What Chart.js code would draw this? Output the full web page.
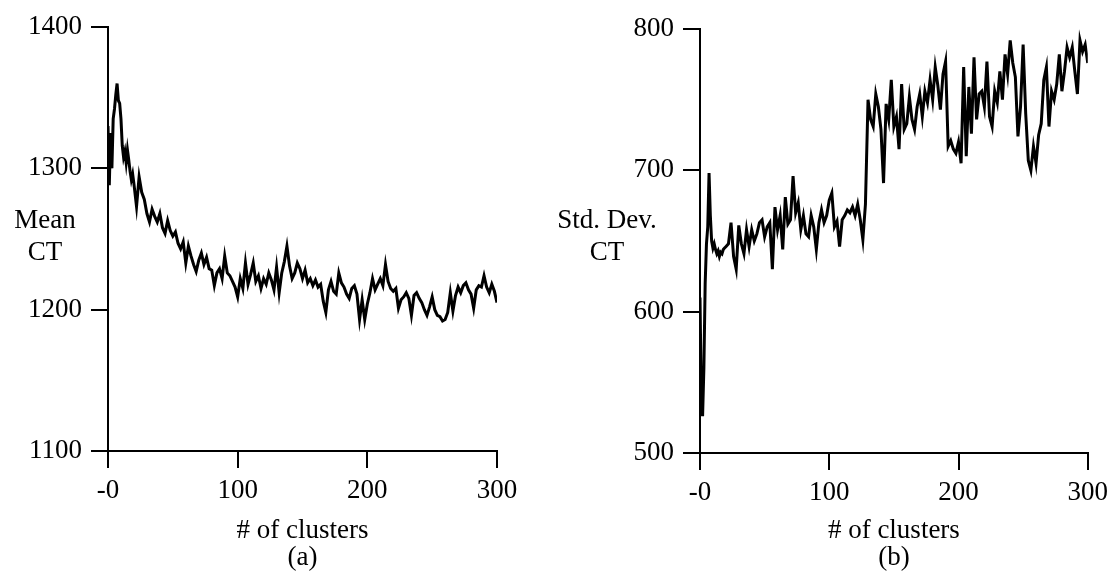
<!DOCTYPE html>
<html>
<head>
<meta charset="utf-8">
<title>Mean and standard deviation of CT versus number of clusters</title>
<script src="https://cdn.jsdelivr.net/npm/chart.js@4.4.1/dist/chart.umd.min.js"></script>
<style>
  html, body { margin: 0; padding: 0; background: #fff; }
  #wrap { position: relative; width: 1115px; height: 575px; overflow: hidden; }
  canvas { position: absolute; top: 0; }
  #meanChart { left: 0; }
  #stdChart { left: 557px; }
</style>
</head>
<body>
<div id="wrap">
  <canvas id="meanChart" width="557" height="575"></canvas>
  <canvas id="stdChart" width="558" height="575"></canvas>
</div>
<script>
// Number of clusters (x values shared by both panels)
const clusterCounts = [
  0, 1, 2, 3, 4, 5, 6, 7, 8, 9, 10, 11, 12, 13, 14, 15, 16, 17, 18, 19, 20,
  22, 24, 26, 28, 30, 32, 34, 36, 38, 40,
  42, 44, 46, 48, 50, 52, 54, 56, 58, 60,
  62, 64, 66, 68, 70, 72, 74, 76, 78, 80,
  82, 84, 86, 88, 90, 92, 94, 96, 98, 100,
  102, 104, 106, 108, 110, 112, 114, 116, 118, 120,
  122, 124, 126, 128, 130, 132, 134, 136, 138, 140,
  142, 144, 146, 148, 150, 152, 154, 156, 158, 160,
  162, 164, 166, 168, 170, 172, 174, 176, 178, 180,
  182, 184, 186, 188, 190, 192, 194, 196, 198, 200,
  202, 204, 206, 208, 210, 212, 214, 216, 218, 220,
  222, 224, 226, 228, 230, 232, 234, 236, 238, 240,
  242, 244, 246, 248, 250, 252, 254, 256, 258, 260,
  262, 264, 266, 268, 270, 272, 274, 276, 278, 280,
  282, 284, 286, 288, 290, 292, 294, 296, 298, 300
];

// (a) Mean CT
const meanCT = [
  1330, 1288, 1325, 1300, 1335, 1342, 1352, 1360, 1348, 1346, 1335, 1316, 1308, 1312, 1304, 1313, 1306, 1298, 1292, 1296, 1289,
  1273, 1294, 1283, 1278, 1268, 1262, 1271, 1266, 1262, 1268,
  1258, 1254, 1263, 1256, 1252, 1255, 1247, 1243, 1248, 1233,
  1245, 1238, 1232, 1227, 1235, 1240, 1232, 1237, 1229, 1228,
  1217, 1226, 1229, 1222, 1238, 1226, 1224, 1220, 1216, 1209,
  1222, 1215, 1233, 1218, 1225, 1233, 1220, 1224, 1215, 1222,
  1218, 1226, 1221, 1214, 1230, 1212, 1226, 1234, 1245, 1231,
  1222, 1226, 1233, 1229, 1222, 1228, 1219, 1222, 1217, 1221,
  1216, 1218, 1206, 1198, 1214, 1220, 1213, 1211, 1226, 1219,
  1216, 1211, 1208, 1215, 1217, 1211, 1193, 1207, 1193, 1204,
  1212, 1222, 1214, 1218, 1222, 1217, 1232, 1220, 1215, 1213,
  1215, 1201, 1207, 1209, 1212, 1208, 1196, 1210, 1212, 1208,
  1205, 1200, 1196, 1202, 1209, 1200, 1196, 1195, 1192, 1193,
  1198, 1212, 1199, 1210, 1216, 1212, 1217, 1219, 1214, 1211,
  1201, 1214, 1217, 1216, 1224, 1216, 1212, 1218, 1213, 1205
];

// (b) Std. Dev. CT
const stdDevCT = [
  610, 540, 526, 560, 620, 648, 660, 698, 668, 650, 645, 648, 644, 641, 643, 639, 642, 641, 644, 645, 646,
  648, 663, 639, 630, 661, 648, 641, 658, 646, 658,
  650, 655, 663, 665, 653, 660, 663, 630, 674, 658,
  668, 644, 681, 662, 665, 696, 670, 677, 658, 668,
  655, 653, 668, 660, 644, 663, 672, 663, 668, 679,
  684, 660, 664, 646, 665, 668, 672, 670, 674, 668,
  676, 665, 651, 676, 750, 736, 731, 754, 745, 729,
  691, 747, 736, 764, 731, 738, 715, 761, 729, 733,
  752, 736, 729, 745, 754, 738, 756, 748, 764, 750,
  773, 760, 743, 768, 777, 717, 721, 715, 712, 720,
  705, 773, 710, 759, 726, 780, 736, 754, 756, 745,
  777, 738, 731, 756, 748, 770, 750, 782, 768, 792,
  776, 766, 724, 745, 789, 740, 707, 700, 717, 705,
  725, 733, 764, 773, 731, 756, 750, 761, 782, 756,
  770, 787, 780, 787, 770, 754, 792, 784, 789, 776
];

// Axis ticks
const clusterTicks = [0, 100, 200, 300];
const clusterTickLabels = ['-0', '100', '200', '300'];
const meanTicks = [1100, 1200, 1300, 1400];
const stdDevTicks = [500, 600, 700, 800];

const FONT = '"Liberation Serif", "Times New Roman", Times, serif';
const INK = '#000';
const TEXT_SIZE = 27;

// Horizontal, stacked y-axis caption drawn to the left of the tick labels
function sideCaption(lines, cx, cy, step) {
  return {
    id: 'sideCaption',
    afterDraw(chart) {
      const ctx = chart.ctx;
      ctx.save();
      ctx.font = TEXT_SIZE + 'px ' + FONT;
      ctx.fillStyle = INK;
      ctx.textAlign = 'center';
      ctx.textBaseline = 'middle';
      lines.forEach((t, i) => ctx.fillText(t, cx, cy + i * step));
      ctx.restore();
    }
  };
}

function axisLines() {
  return {
    grid: { drawOnChartArea: false, drawTicks: true, tickLength: 17, color: INK, lineWidth: 2 },
    border: { display: true, color: INK, width: 2 }
  };
}

function panel(canvasId, values, yTicks, cfg) {
  return new Chart(document.getElementById(canvasId), {
    type: 'line',
    data: {
      datasets: [{
        data: clusterCounts.map((x, i) => ({ x: x, y: values[i] })),
        borderColor: INK,
        borderWidth: 3,
        pointRadius: 0,
        tension: 0,
        fill: false
      }]
    },
    options: {
      responsive: false,
      animation: false,
      devicePixelRatio: 1,
      layout: { padding: { top: cfg.top, right: cfg.right, bottom: 0, left: 0 } },
      plugins: { legend: { display: false }, tooltip: { enabled: false } },
      scales: {
        x: Object.assign({
          type: 'linear',
          min: clusterTicks[0],
          max: clusterTicks[clusterTicks.length - 1],
          afterBuildTicks: s => { s.ticks = clusterTicks.map(v => ({ value: v })); },
          afterFit: s => { s.height = cfg.xAxisHeight; },
          ticks: {
            callback: (v, i) => clusterTickLabels[i],
            font: { family: FONT, size: TEXT_SIZE, lineHeight: 1.2 },
            color: INK,
            padding: 7,
            maxRotation: 0,
            autoSkip: false
          },
          title: {
            display: true,
            text: ['# of clusters', cfg.caption],
            font: { family: FONT, size: TEXT_SIZE, lineHeight: 1.0 },
            color: INK,
            padding: { top: 0, bottom: 4 }
          }
        }, axisLines()),
        y: Object.assign({
          type: 'linear',
          min: yTicks[0],
          max: yTicks[yTicks.length - 1],
          afterBuildTicks: s => { s.ticks = yTicks.map(v => ({ value: v })); },
          afterFit: s => { s.width = cfg.yAxisWidth; },
          ticks: {
            callback: v => String(v),
            font: { family: FONT, size: TEXT_SIZE, lineHeight: 1.2 },
            color: INK,
            padding: 9
          }
        }, axisLines())
      }
    },
    plugins: [sideCaption(cfg.yCaption, cfg.yCaptionX, 221, 32)]
  });
}

panel('meanChart', meanCT, meanTicks, {
  top: 27, right: 60, xAxisHeight: 124, yAxisWidth: 108,
  caption: '(a)', yCaption: ['Mean', 'CT'], yCaptionX: 45
});

panel('stdChart', stdDevCT, stdDevTicks, {
  top: 29, right: 26, xAxisHeight: 122, yAxisWidth: 143,
  caption: '(b)', yCaption: ['Std. Dev.', 'CT'], yCaptionX: 50
});
</script>
</body>
</html>
